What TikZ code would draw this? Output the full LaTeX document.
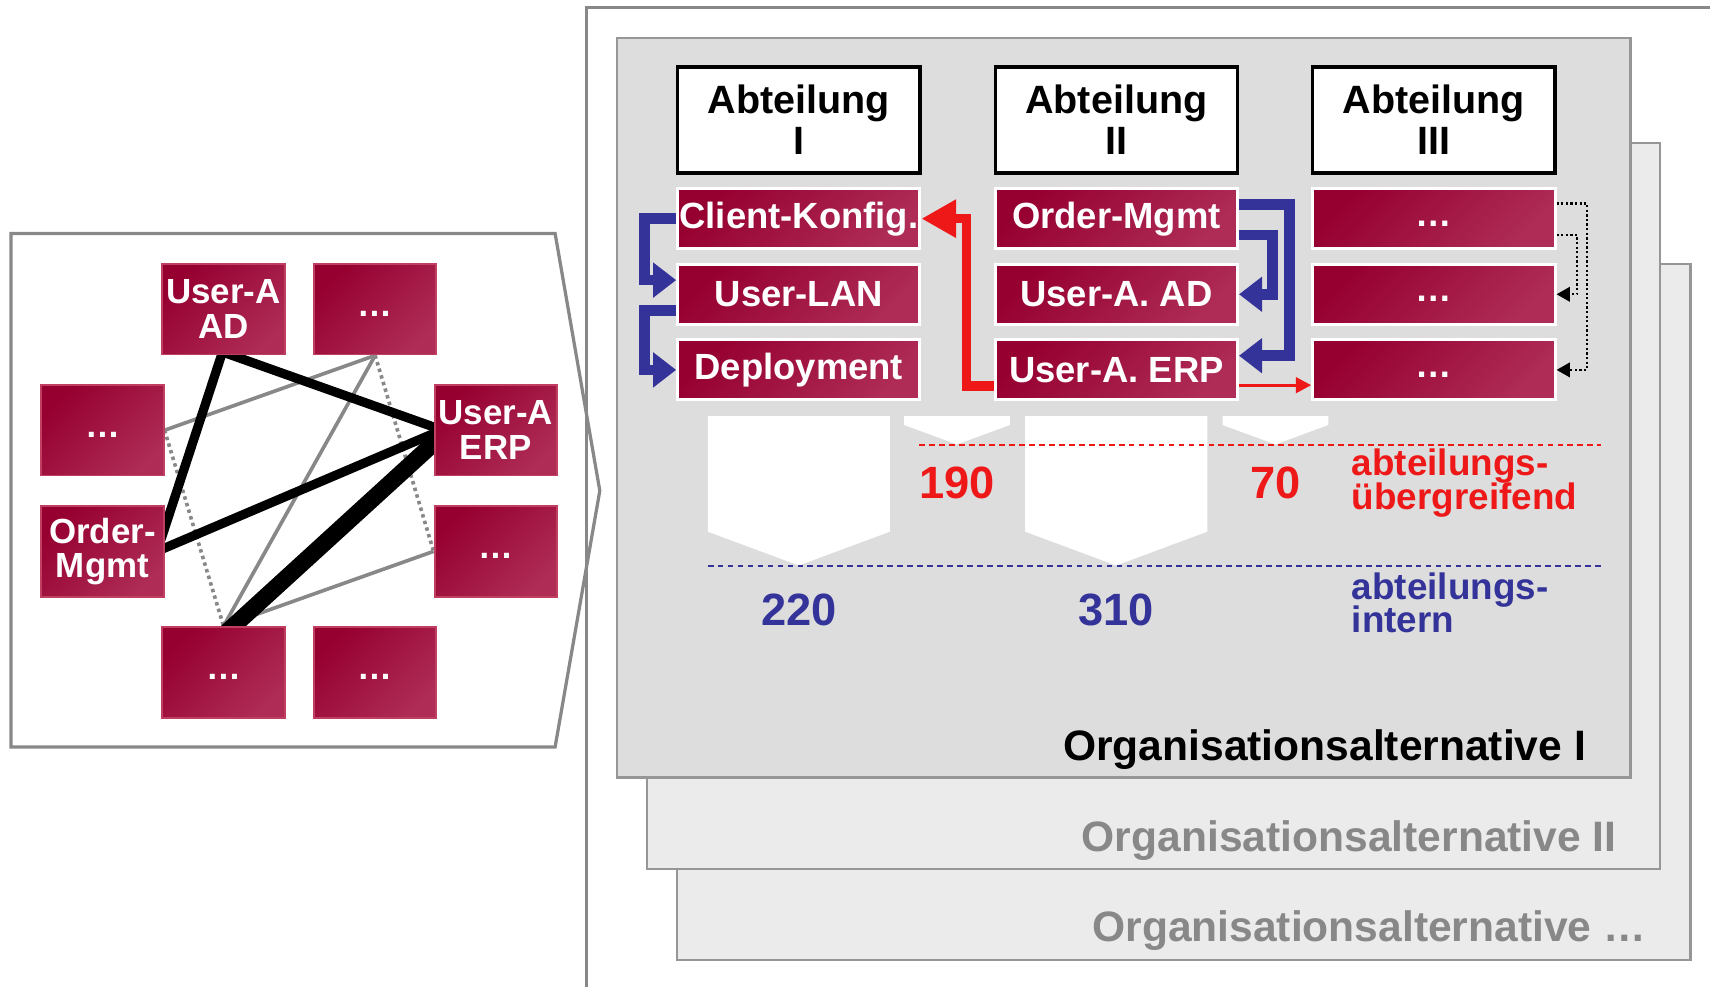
\documentclass[tikz,border=0pt]{standalone}
\usepackage{fontspec}
\setmainfont{Liberation Sans}
\usetikzlibrary{arrows.meta,positioning,calc}
\definecolor{dfcrimson}{RGB}{150,0,48}
\definecolor{dfcrimsonlight}{RGB}{174,44,86}
\definecolor{dfcrimsonedge}{RGB}{192,62,98}
\definecolor{dfblue}{RGB}{51,51,153}
\definecolor{dfred}{RGB}{238,24,24}
\definecolor{dfgray}{RGB}{136,136,136}
\definecolor{dfpanel}{RGB}{221,221,221}
\definecolor{dfpanelback}{RGB}{235,235,235}
\definecolor{dfpanelline}{RGB}{150,150,150}
\pgfdeclarelayer{bg}
\pgfsetlayers{bg,main}
\tikzstyle{frame} = [draw=dfgray, line width=0.85pt]
\tikzstyle{panel} = [draw=dfpanelline, line width=0.6pt]
\tikzstyle{alttext} = [inner sep=0pt, anchor=base east, text=dfgray, font=\bfseries\fontsize{11.1}{13}\selectfont]
\tikzstyle{dept} = [rectangle, minimum width=2.22cm, minimum height=0.97cm, inner sep=0pt, align=center, draw=black, fill=white, line width=0.85pt, font=\bfseries\fontsize{10.3}{10.7}\selectfont]
\tikzstyle{task} = [rectangle, minimum width=2.22cm, minimum height=0.55cm, inner sep=0pt, text=white, draw=white, line width=0.8pt, left color=dfcrimson, right color=dfcrimsonlight, shading angle=45, font=\bfseries\fontsize{9.5}{10}\selectfont]
\tikzstyle{unit} = [rectangle, minimum width=1.12cm, minimum height=0.83cm, inner sep=0pt, align=center, text=white, draw=dfcrimsonedge, line width=0.5pt, left color=dfcrimson, right color=dfcrimsonlight, shading angle=45, font=\bfseries\fontsize{9.1}{9}\selectfont]
\tikzstyle{arrowintern} = [line width=2.8pt, color=dfblue, -{Triangle[length=6pt,width=8.8pt]}]
\tikzstyle{arrowcross} = [line width=2.5pt, color=dfred, -{Triangle[length=9pt,width=9.4pt]}]
\tikzstyle{arrowcrossthin} = [line width=0.85pt, color=dfred, -{Triangle[length=4pt,width=4pt]}]
\tikzstyle{arrowdotted} = [line width=0.6pt, color=black, dash pattern=on 0.6pt off 0.6pt, -{Triangle[length=3.5pt,width=3.8pt]}]
\tikzstyle{levelcross} = [draw=dfred, line width=0.5pt, dash pattern=on 1.5pt off 1.1pt]
\tikzstyle{levelintern} = [draw=dfblue, line width=0.5pt, dash pattern=on 1.5pt off 1.1pt]
\tikzstyle{volume} = [fill=white]
\tikzstyle{volred} = [text=dfred, font=\bfseries\fontsize{11.8}{12}\selectfont]
\tikzstyle{volblue} = [text=dfblue, font=\bfseries\fontsize{11.8}{12}\selectfont]
\tikzstyle{levellabel} = [anchor=west, align=left, inner sep=0pt, font={\bfseries\fontsize{9.6}{8.7}\selectfont\lineskiplimit=-10pt\relax}]
\tikzstyle{linkweak} = [draw=dfgray, line width=0.95pt]
\tikzstyle{linkdotted} = [draw=dfgray, line width=0.95pt, dash pattern=on 0.9pt off 0.9pt]
\tikzstyle{linkstrong} = [draw=black, line width=2.4pt, shorten <=-3pt, shorten >=-3pt]
\tikzstyle{linkheavy} = [draw=black, line width=4.4pt, shorten <=-4pt, shorten >=-4pt]
\newcommand{\tbd}{\strut…}

\begin{document}
\begin{tikzpicture}[x=0.01cm, y=-0.01cm, node distance=0.693cm]
\useasboundingbox (0,0) rectangle (1568,905);

% Frame
\draw[frame] (538,905) -- (538,7) -- (1568,7);

% Alternatives
\draw[panel, fill=dfpanelback] (621,242) rectangle (1550,880);
\node (altn) [alttext] at (1510,863.5) {Organisationsalternative …};
\draw[panel, fill=dfpanelback] (593,131) rectangle (1522,797);
\node (alt2) [alttext] at (1483,781) {Organisationsalternative II};
\draw[panel, fill=dfpanel] (566,35) rectangle (1495,713);
\node (alt1) [alttext, text=black] at (1455,697) {Organisationsalternative I};

% Departments
\node (abt1) [dept] at (732.5,110) {Abteilung\\I};
\node (abt2) [dept, node distance=2.91cm, right of=abt1] {Abteilung\\II};
\node (abt3) [dept, node distance=2.91cm, right of=abt2] {Abteilung\\III};

% Tasks
\node (cfg) [task] at (732.5,200.5) {Client-Konfig.};
\node (lan) [task, below of=cfg] {User-LAN};
\node (dep) [task, below of=lan] {Deployment};
\node (ord) [task, node distance=2.91cm, right of=cfg] {Order-Mgmt};
\node (uad) [task, below of=ord] {User-A. AD};
\node (erp) [task, below of=uad] {User-A. ERP};
\node (tbd1) [task, node distance=2.91cm, right of=ord] {\tbd};
\node (tbd2) [task, below of=tbd1] {\tbd};
\node (tbd3) [task, below of=tbd2] {\tbd};

% Arrows
\draw[arrowintern] (cfg.west) -- ++(-29,0) |- ($(lan.west)+(0,-13)$);
\draw[arrowintern] ($(lan.west)+(0,15)$) -- ++(-29,0) |- (dep.west);
\draw[arrowintern] ($(ord.east)+(0,-13)$) -- ++(46,0) |- ($(erp.east)+(0,-13)$);
\draw[arrowintern] ($(ord.east)+(0,15)$) -- ++(31,0) |- (uad.east);
\draw[arrowcross] ($(erp.west)+(0,15)$) -- ++(-25,0) |- (cfg.east);
\draw[arrowcrossthin] ($(erp.east)+(0,14)$) -- ($(tbd3.west)+(0,14)$);
\draw[arrowdotted] ($(tbd1.east)+(0,-14)$) -- ++(28,0) |- (tbd3.east);
\draw[arrowdotted] ($(tbd1.east)+(0,15)$) -- ++(19,0) |- (tbd2.east);

% Volumes
\fill[volume] (649,381.5) -- (816,381.5) -- (816,487.5) -- (732.5,518.5) -- (649,487.5) -- cycle;
\fill[volume] (940,381.5) -- (1107,381.5) -- (1107,487.5) -- (1023.5,518.5) -- (940,487.5) -- cycle;
\fill[volume] (829,381.5) -- (926,381.5) -- (926,389.7) -- (877.5,407.5) -- (829,389.7) -- cycle;
\fill[volume] (1121,381.5) -- (1218,381.5) -- (1218,389.7) -- (1169.5,407.5) -- (1121,389.7) -- cycle;
\draw[levelcross] (843,408) -- (1468,408);
\draw[levelintern] (649,519) -- (1468,519);

\node (v190) [volred] at (877.5,443) {190};
\node (v70) [volred] at (1169.5,443) {70};
\node (v220) [volblue] at (732.5,559) {220};
\node (v310) [volblue] at (1023.5,559) {310};
\node (labcross) [levellabel, text=dfred] at (1239,443) {abteilungs-\\übergreifend};
\node (labintern) [levellabel, text=dfblue] at (1239,553) {abteilungs-\\intern};

% Network of units
\draw[frame] (10,214) -- (509,214) -- (550,450) -- (509,685) -- (10,685) -- cycle;
\node (lad) [unit] at (205,283.5) {User-A\\AD};
\node (ltop) [unit] at (344,283.5) {\tbd};
\node (lleft) [unit] at (94,394.5) {\tbd};
\node (lerp) [unit] at (454.5,394.5) {User-A\\ERP};
\node (lom) [unit, node distance=1.11cm, below of=lleft] {Order-\\Mgmt};
\node (lright) [unit, node distance=1.11cm, below of=lerp] {\tbd};
\node (lbot) [unit] at (205,616.5) {\tbd};
\node (lbotr) [unit] at (344,616.5) {\tbd};

\begin{pgfonlayer}{bg}
\draw[linkweak] (lleft.east) -- (ltop.south);
\draw[linkweak] (ltop.south) -- (lbot.north);
\draw[linkweak] (lbot.north) -- (lright.west);
\draw[linkdotted] (ltop.south) -- (lright.west);
\draw[linkdotted] (lleft.east) -- (lbot.north);
\draw[linkstrong] ($(lad.south)+(-2,0)$) -- ($(lom.east)+(0,-21)$);
\draw[linkstrong] ($(lad.south)+(8,0)$) -- ($(lerp.west)+(0,-3)$);
\draw[linkstrong] ($(lom.east)+(0,-3)$) -- ($(lerp.west)+(0,3)$);
\draw[linkheavy] ($(lbot.north)+(9,0)$) -- ($(lerp.west)+(0,12)$);
\end{pgfonlayer}
\end{tikzpicture}
\end{document}
